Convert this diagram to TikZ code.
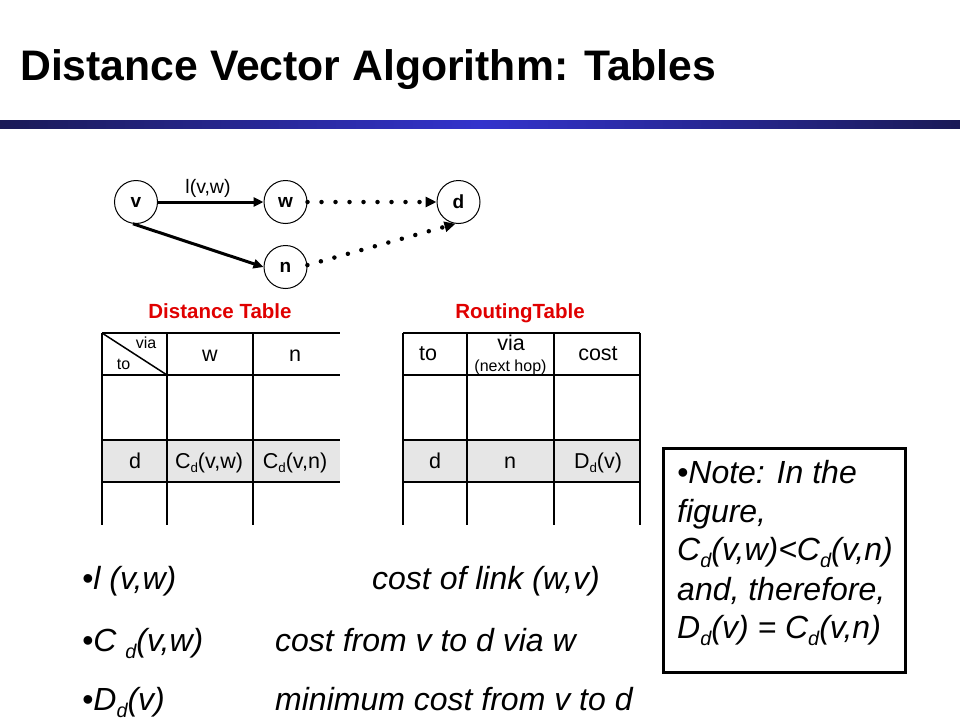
\documentclass[tikz,border=0pt]{standalone}
\usepackage{fontspec}
\setmainfont{Liberation Sans}
\usepackage{graphicx}
\usetikzlibrary{arrows.meta}
\definecolor{barend}{RGB}{26,26,86}
\definecolor{barmid}{RGB}{51,51,204}
\definecolor{titlered}{RGB}{224,0,0}
\definecolor{rowgray}{RGB}{230,230,230}
\newcommand\dsub[1]{\raisebox{-0.22em}{\scalebox{0.62}{#1}}}
\newcommand\fs[1]{\fontsize{#1}{#1}\selectfont}
\begin{document}
\begin{tikzpicture}[x=1pt,y=-1pt,
  graphnode/.style={circle, draw, line width=1pt, minimum size=43pt, inner sep=0pt, font=\fs{19}\bfseries},
  link/.style={line width=3pt, -{Triangle[length=10pt,width=9pt]}},
  dotlink/.style={line width=4.5pt, line cap=round, dash pattern=on 0pt off 14pt, -{Triangle[length=11pt,width=10pt]}},
  tabline/.style={line width=2pt},
  cell/.style={font=\fs{21.5}, inner sep=0pt, anchor=base},
  small/.style={font=\fs{16}, inner sep=0pt, anchor=base},
  tabtitle/.style={font=\fs{20.5}\bfseries, text=titlered, inner sep=0pt, anchor=base},
  bullet/.style={font=\fs{32}\itshape, inner sep=0pt, anchor=base west},
  notebox/.style={draw, line width=3pt, inner sep=0pt}
]
\useasboundingbox (0,0) rectangle (960,720);
\fill[white] (0,0) rectangle (960,720);

% title and bar
\node[font=\fs{42.7}\bfseries, inner sep=0pt, anchor=base west] (title) at (20,80) {Distance Vector Algorithm: Tables};
\shade[left color=barend, right color=barend, middle color=barmid] (0,120) rectangle (960,128);

% graph
\node[graphnode] (v) at (136,202) {v};
\node[graphnode] (w) at (285.5,202) {w};
\node[graphnode] (d) at (458.5,202) {d};
\node[graphnode] (n) at (285.5,267) {n};
\draw[link] (v) -- (w);
\draw[link] (v.262) -- (n.180);
\draw[dotlink] (w) -- (d);
\draw[dotlink] (n.5) -- (d.262);
\node[font=\fs{19.5}, inner sep=0pt, anchor=base] (lvw) at (208,193) {l(v,w)};

% distance table
\fill[rowgray] (102,440) rectangle (340,482);
\foreach \yy in {333,375,440,482} \draw[tabline] (102,\yy) -- (340,\yy);
\foreach \xx in {102,167,253} \draw[tabline] (\xx,333) -- (\xx,525);
\draw[line width=1.5pt] (102,333) -- (167,375);
\node[tabtitle] (dtitle) at (220,318) {Distance Table};
\node[small] (dvia) at (146,348) {via};
\node[small] (dto) at (123.5,369) {to};
\node[cell] (dw) at (210,361) {w};
\node[cell] (dn) at (295,361) {n};
\node[cell] (dd) at (135,468) {d};
\node[cell] (dcw) at (209,468) {C\dsub{d}(v,w)};
\node[cell] (dcn) at (295,468) {C\dsub{d}(v,n)};

% routing table
\fill[rowgray] (403,440) rectangle (640,482);
\foreach \yy in {333,375,440,482} \draw[tabline] (403,\yy) -- (640,\yy);
\foreach \xx in {403,467,554,640} \draw[tabline] (\xx,333) -- (\xx,525);
\node[tabtitle] (rtitle) at (520,318) {RoutingTable};
\node[cell] (rto) at (428,360) {to};
\node[cell] (rvia) at (511,350) {via};
\node[small] (rnext) at (510.5,371) {(next hop)};
\node[cell] (rcost) at (598,360) {cost};
\node[cell] (rd) at (435,468) {d};
\node[cell] (rn) at (510,468) {n};
\node[cell] (rD) at (598,468) {D\dsub{d}(v)};

% bullets
\node[bullet] (b1) at (82,589) {•l (v,w)};
\node[bullet] (b1r) at (372,589) {cost of link (w,v)};
\node[bullet] (b2) at (82,651) {•C \dsub{d}(v,w)};
\node[bullet] (b2r) at (275,651) {cost from v to d via w};
\node[bullet] (b3) at (82,710) {•D\dsub{d}(v)};
\node[bullet] (b3r) at (275,710) {minimum cost from v to d};

% note box
\node[notebox, minimum width=242pt, minimum height=224pt] (note) at (784,560) {};
\node[bullet] (n1) at (677,483) {•Note: In the};
\node[bullet] (n2) at (677,522) {figure,};
\node[bullet] (n3) at (677,560) {C\dsub{d}(v,w)<C\dsub{d}(v,n)};
\node[bullet] (n4) at (677,600) {and, therefore,};
\node[bullet] (n5) at (677,638) {D\dsub{d}(v) = C\dsub{d}(v,n)};
\end{tikzpicture}
\end{document}
